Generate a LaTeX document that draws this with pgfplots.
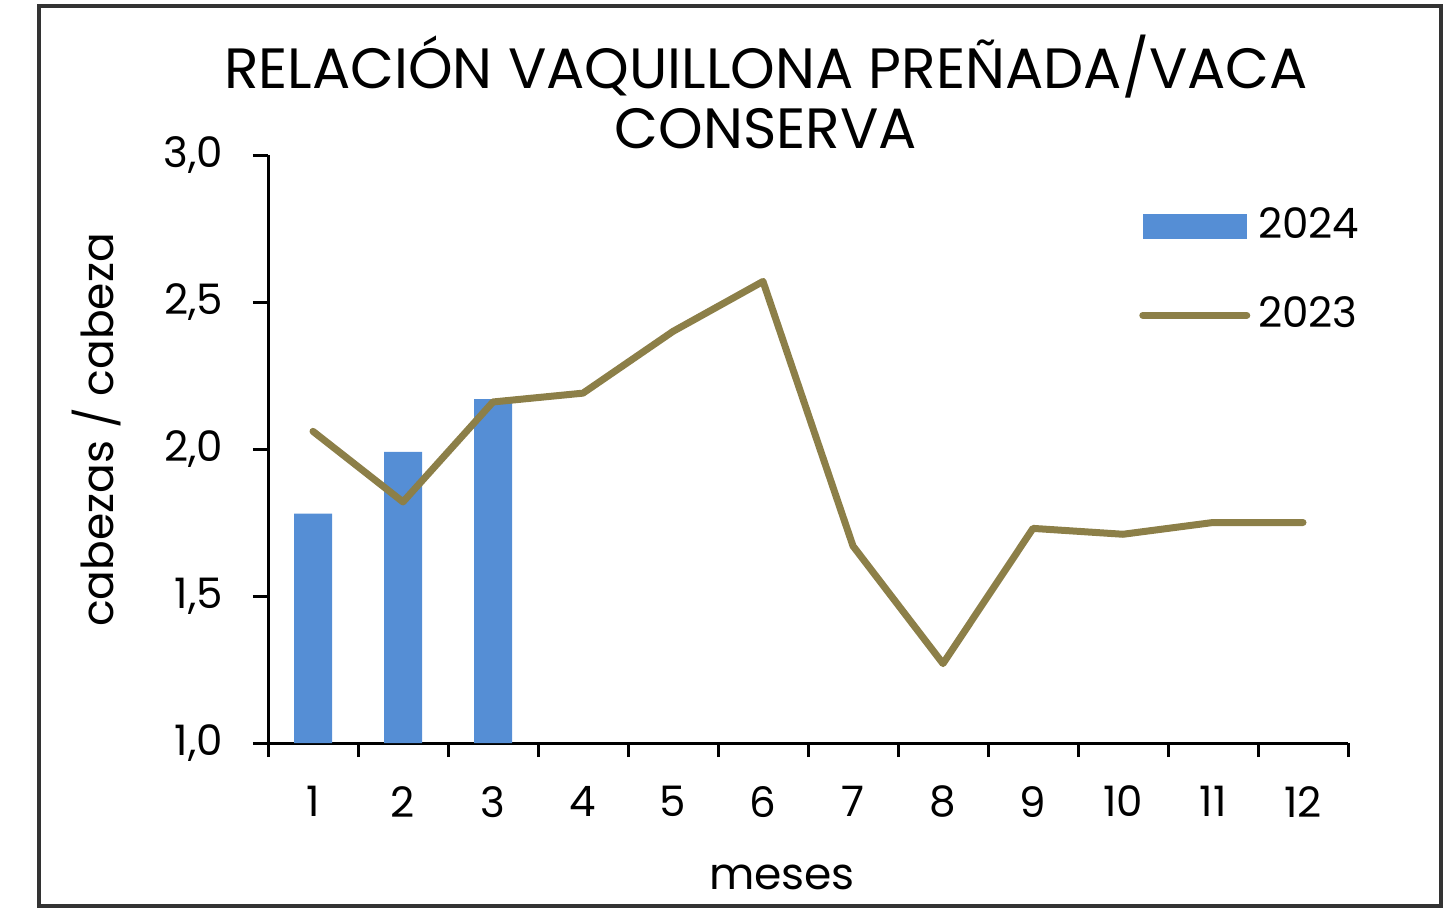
\documentclass[border=0pt]{standalone}
\usepackage{pgfplots}
\pgfplotsset{compat=1.18}
\usepackage{fontspec}
\setmainfont{Poppins}
\definecolor{barblue}{HTML}{558ED5}
\definecolor{lineol}{HTML}{8C7F48}
\begin{document}
\begin{tikzpicture}
\useasboundingbox (0,0) rectangle (361.5pt,-227.25pt);
\draw[line width=0.8pt, black!80] (9.75pt,-1.5pt) rectangle (360.25pt,-226.5pt);
\begin{axis}[
  at={(67pt,-185.75pt)}, anchor=south west,
  scale only axis, width=270pt, height=147pt,
  xmin=0.5, xmax=12.5, ymin=1, ymax=3,
  axis x line=bottom, axis y line=left,
  axis line style={-, line width=0.75pt, black},
  xtick={1,...,12},
  minor xtick={0.5,1.5,...,12.5},
  ytick={1,1.5,2,2.5,3},
  tick align=outside,
  major tick length=3.75pt, minor tick length=3.5pt,
  major x tick style={draw=none},
  minor x tick style={line width=0.75pt, black},
  major y tick style={line width=0.75pt, black},
  tick label style={font=\fontsize{10.5}{12}\selectfont, black},
  xticklabel style={yshift=-3.5pt},
  yticklabel style={xshift=-4pt},
  /pgf/number format/assume math mode=true,
  yticklabel={\pgfmathprintnumber[fixed, fixed zerofill, precision=1, use comma]{\tick}},
  xticklabel={\pgfmathprintnumber[assume math mode=true]{\tick}},
  clip=true,
  legend style={at={(rel axis cs:0.806,0.925)}, anchor=north west, draw=none, fill=none,
    font=\fontsize{10.5}{12}\selectfont, row sep=9pt, inner sep=0pt},
  legend cell align=left,
]
\addplot[ybar, bar width=9.5pt, fill=barblue, draw=none, bar shift=0pt,
  legend image code/.code={\fill[barblue] (0pt,-3.125pt) rectangle (26pt,3.125pt);}]
  coordinates {(1,1.78) (2,1.99) (3,2.17)};
\addlegendentry{2024}
\addplot[lineol, line width=1.75pt, line join=round, line cap=round, mark=none,
  legend image code/.code={\draw[lineol, line width=1.75pt, line cap=round] (0pt,0pt) -- (26pt,0pt);}]
  coordinates {(1,2.06) (2,1.82) (3,2.16) (4,2.19) (5,2.40) (6,2.57) (7,1.67) (8,1.27) (9,1.73) (10,1.71) (11,1.75) (12,1.75)};
\addlegendentry{2023}
\end{axis}
\node[align=center, font=\fontsize{14.2}{15}\selectfont] at (191.5pt,-23pt) {RELACIÓN VAQUILLONA PREÑADA/VACA\\CONSERVA};
\node[rotate=90, font=\fontsize{11}{13}\selectfont] at (24.25pt,-107.5pt) {cabezas / cabeza};
\node[font=\fontsize{11}{13}\selectfont] at (195.5pt,-219.25pt) {meses};
\end{tikzpicture}
\end{document}
